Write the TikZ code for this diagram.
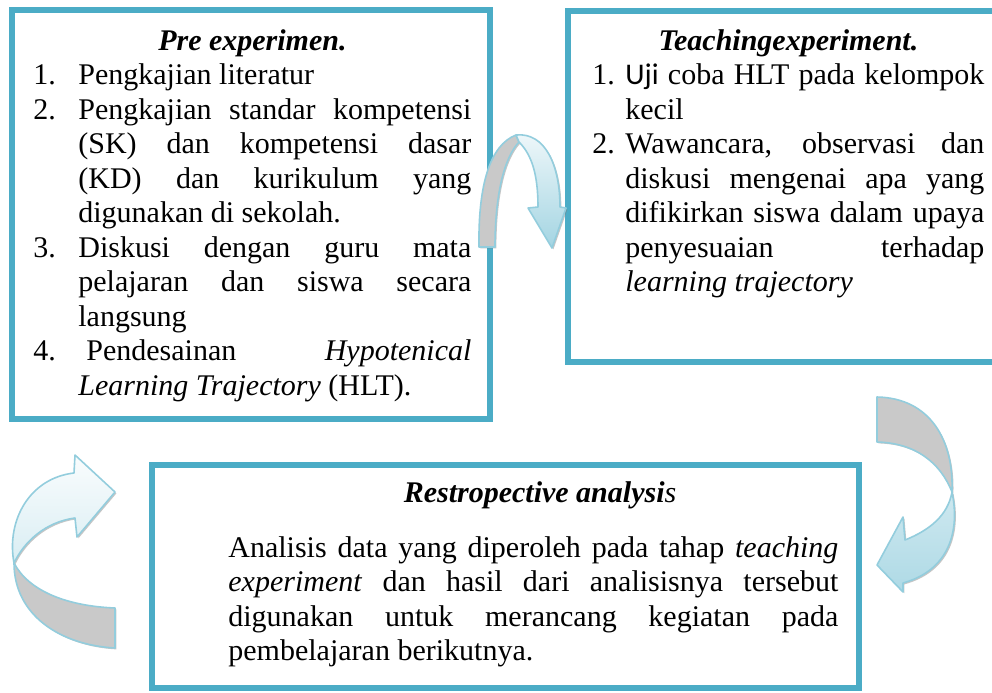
\documentclass[tikz,border=0pt]{standalone}
\usepackage{fontspec}
\setmainfont{Liberation Serif}
\newfontfamily\calibrifont{Carlito}
\usepackage{tikz}
\usetikzlibrary{shadows}
\definecolor{boxBlue}{HTML}{4BACC6}
\definecolor{arrowLine}{HTML}{93CDDD}
\definecolor{arrowGray}{HTML}{C9C9C9}

% numbered line with hanging indent
\newcommand{\phaseitem}[3][22.5pt]{\par\hangindent=#1\hangafter=1\noindent\makebox[#1][l]{#2}#3\par}

\begin{document}
\begin{tikzpicture}[x=0.5pt, y=-0.5pt,
  phasebox/.style={draw=boxBlue,line width=3pt,fill=white,inner sep=0pt,outer sep=0pt,anchor=north west},
  phasetext/.style={inner sep=0pt,anchor=base west,align=justify,font=\fontsize{15pt}{17.25pt}\selectfont},
  back/.style={fill=arrowGray,draw=arrowLine,line width=.8pt,line join=round},
  front/.style={draw=arrowLine,line width=.8pt,line join=round},
  arrowshadow/.style={drop shadow={shadow xshift=.7pt,shadow yshift=-.7pt,fill=black!50,opacity=.45}}]
  \useasboundingbox (0,0) rectangle (992,692);
  \clip (0,0) rectangle (992,692);
% --- boxes ---
  \node[phasebox,minimum width=239.25pt,minimum height=204.5pt] (preBox) at (11.5,10) {};
  \node[phasebox,minimum width=216pt,minimum height=175.5pt] (teachBox) at (568,11) {};
  \node[phasebox,minimum width=353.75pt,minimum height=111.5pt] (retroBox) at (151.5,465) {};
% --- pre experimen ---
  \node[phasetext,text width=219pt] (preText) at (33,50) {%
    {\centering\bfseries\itshape Pre experimen.\par}
    \phaseitem{1.}{Pengkajian literatur}
    \phaseitem{2.}{Pengkajian standar kompetensi\linebreak (SK) dan kompetensi dasar\linebreak (KD) dan kurikulum yang\linebreak digunakan di sekolah.}
    \phaseitem{3.}{Diskusi dengan guru mata\linebreak pelajaran dan siswa secara\linebreak langsung}
    \phaseitem{4.}{\hspace{4pt}Pendesainan \textit{Hypotenical}\linebreak \textit{Learning Trajectory} (HLT).}};
% --- teaching experiment ---
  \node[phasetext,text width=196pt] (teachText) at (592,50) {%
    {\centering\bfseries\itshape Teachingexperiment.\par}
    \phaseitem[16.5pt]{1.}{{\calibrifont Uji} coba HLT pada kelompok\linebreak kecil}
    \phaseitem[16.5pt]{2.}{Wawancara, observasi dan\linebreak diskusi mengenai apa yang\linebreak difikirkan siswa dalam upaya\linebreak penyesuaian terhadap\linebreak \textit{learning trajectory}}};
% --- restropective analysis ---
  \node[phasetext,anchor=base] (retroTitle) at (540,502) {\bfseries\itshape Restropective analysi\mdseries s};
  \node[phasetext,text width=305pt] (retroText) at (228,557) {%
    Analisis data yang diperoleh pada tahap \textit{teaching}\linebreak \textit{experiment} dan hasil dari analisisnya tersebut\linebreak digunakan untuk merancang kegiatan pada\linebreak pembelajaran berikutnya.};
% --- curved arrows ---
  \draw[back,arrowshadow] (479,247) .. controls (478,185) and (490,145) .. (516,135)
    -- (519,142) .. controls (504,158) and (495,195) .. (495,247) -- cycle;
  \draw[front,arrowshadow,top color=white!85!arrowLine,bottom color=arrowLine!85] (516,135)
    .. controls (545,132) and (560,165) .. (560,207) -- (566,208) -- (552,248) -- (528,208)
    -- (538,207) .. controls (538,175) and (532,155) .. (519,142) -- cycle;
  \draw[back,arrowshadow] (877,397) .. controls (930,398) and (954,440) .. (952,492)
    .. controls (940,462) and (915,443) .. (877,442) -- cycle;
  \draw[front,arrowshadow,top color=arrowLine!45,bottom color=arrowLine!75] (952,492)
    .. controls (960,530) and (950,570) .. (903,583) -- (903,592) -- (877,565) -- (903,517)
    -- (905,540) .. controls (930,530) and (948,515) .. (952,492) -- cycle;
  \draw[back,arrowshadow] (115,608) -- (115,648) .. controls (60,645) and (14,615) .. (14,563)
    .. controls (28,590) and (65,606) .. (115,608) -- cycle;
  \draw[front,arrowshadow,top color=white!95!arrowLine,bottom color=arrowLine!35] (14,563)
    .. controls (6,520) and (30,478) .. (74,473) -- (75,455) -- (115,492) -- (77,537)
    -- (75,518) .. controls (45,522) and (24,542) .. (14,563) -- cycle;
\end{tikzpicture}
\end{document}
